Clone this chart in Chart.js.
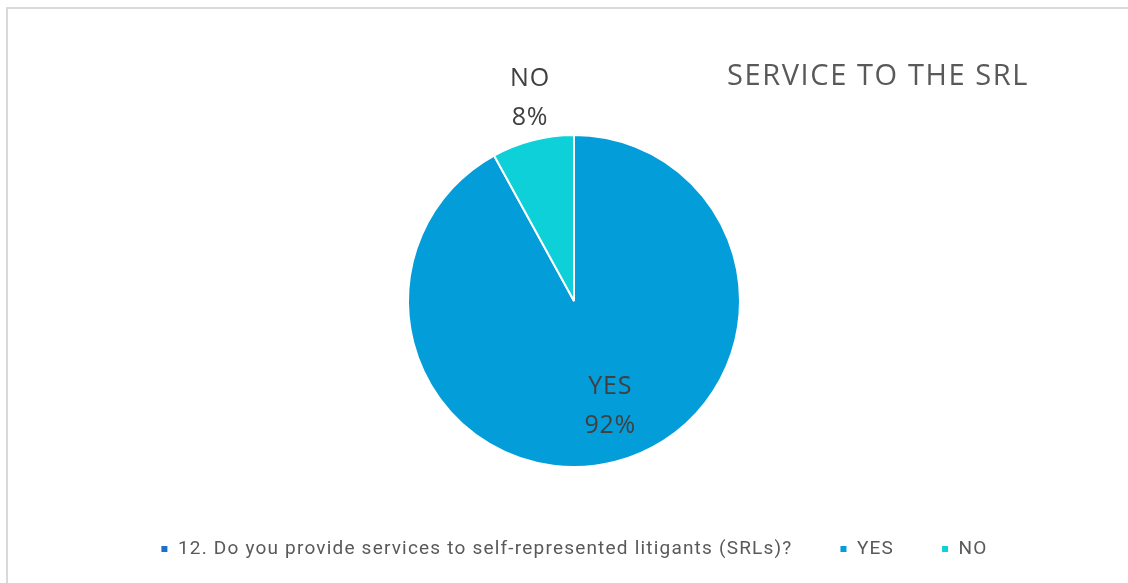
<!DOCTYPE html>
<html lang="en">
<head>
  <meta charset="UTF-8">
  <title>Service to the SRL</title>
  <script src="https://cdn.jsdelivr.net/npm/chart.js"></script>
  <style>
    html, body { margin: 0; padding: 0; background: #fff; overflow: hidden; }
    .frame {
      position: absolute; left: 6px; top: 7px; width: 1200px; height: 700px;
      border-left: 2px solid #d9d9d9; border-top: 2px solid #d9d9d9;
    }
    #srlChart { position: absolute; left: 0; top: 0; }
  </style>
</head>
<body>

  <div class="frame"></div>
  <canvas id="srlChart" width="1128" height="583"></canvas>

  <script>
    const labels = ["12. Do you provide services to self-represented litigants (SRLs)?", "YES", "NO"];
    const shortNames = ["", "YES", "NO"];
    const values = [0, 92, 8];
    const colors = ["#1f6fc6", "#039dda", "#0dd0d8"];

    // slightly spaced lettering for the legend (measured and drawn with it)
    const legendSpacing = {
      id: "legendSpacing",
      beforeLayout(chart) { chart.ctx.letterSpacing = "1.2px"; },
      beforeDraw(chart) { chart.ctx.letterSpacing = "1.2px"; }
    };

    // category name + percentage next to each slice
    const sliceLabels = {
      id: "sliceLabels",
      afterDatasetsDraw(chart) {
        const ctx = chart.ctx;
        const meta = chart.getDatasetMeta(0);
        const total = values.reduce((a, b) => a + b, 0);
        ctx.save();
        ctx.font = "25px 'Open Sans'";
        ctx.letterSpacing = "0.8px";
        ctx.fillStyle = "#404040";
        ctx.textAlign = "center";
        ctx.textBaseline = "middle";
        meta.data.forEach((arc, i) => {
          if (!values[i]) return;
          const mid = (arc.startAngle + arc.endAngle) / 2;
          const share = values[i] / total;
          const inside = share > 0.5;
          const k = inside ? 0.66 : 1.26;
          const x = arc.x + Math.cos(mid) * arc.outerRadius * k + (inside ? 9 : 8);
          const y = arc.y + Math.sin(mid) * arc.outerRadius * k;
          ctx.fillText(shortNames[i], x, y - 20);
          ctx.fillText(Math.round(share * 100) + "%", x, y + 19);
        });
        ctx.restore();
      }
    };

    const cornerTitle = {
      id: "cornerTitle",
      afterDraw(chart) {
        const ctx = chart.ctx;
        ctx.save();
        ctx.font = "29px 'Open Sans'";
        ctx.letterSpacing = "1.6px";
        ctx.fillStyle = "#595959";
        ctx.textBaseline = "middle";
        ctx.fillText("SERVICE TO THE SRL", 727, 77);
        ctx.restore();
      }
    };

    new Chart(document.getElementById("srlChart"), {
      type: "pie",
      data: {
        labels: labels,
        datasets: [{
          data: values,
          backgroundColor: colors,
          borderColor: "#ffffff",
          borderWidth: 2,
          radius: 166
        }]
      },
      options: {
        responsive: false,
        animation: false,
        layout: { padding: { left: 20, right: 0, top: 109.5, bottom: 14.5 } },
        plugins: {
          tooltip: { enabled: false },
          legend: {
            position: "bottom",
            labels: {
              boxWidth: 8,
              boxHeight: 8,
              padding: 47,
              color: "#595959",
              font: { family: "Roboto", size: 19 }
            }
          }
        }
      },
      plugins: [legendSpacing, sliceLabels, cornerTitle]
    });
  </script>

</body>
</html>
